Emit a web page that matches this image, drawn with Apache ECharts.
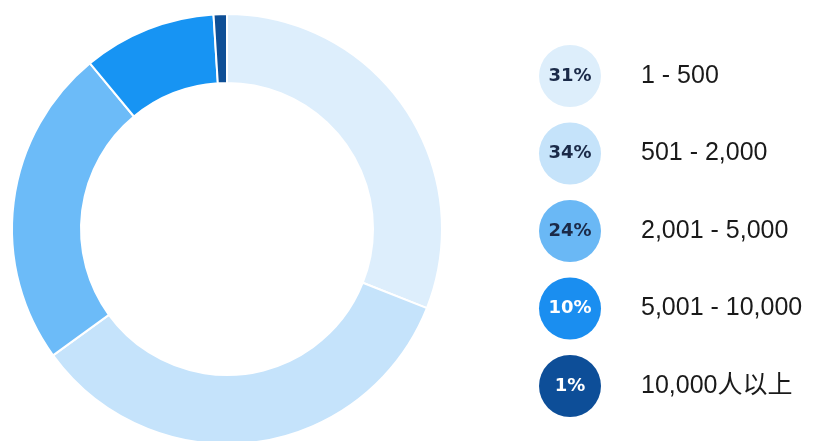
<!DOCTYPE html>
<html>
<head>
<meta charset="utf-8">
<script src="https://cdn.jsdelivr.net/npm/echarts@6/dist/echarts.min.js"></script>
<style>
  html, body { margin: 0; padding: 0; background: #fff; }
  #chart { width: 825px; height: 441px; }
</style>
</head>
<body>
<div id="chart"></div>
<script>
// Company size buckets and their share of respondents (%)
const categories = ['1 - 500', '501 - 2,000', '2,001 - 5,000', '5,001 - 10,000', '10,000人以上'];
const shares = [31, 34, 24, 10, 1];
const sliceColors = ['#ddeefc', '#c5e3fb', '#6cbbf8', '#1794f3', '#0e4f96'];
const badgeColors = ['#ddeefb', '#c5e3fa', '#6ab8f5', '#1a8ef0', '#0d4e98'];
const badgeText = ['#1b2a48', '#1b2a48', '#1b2a48', '#ffffff', '#ffffff'];

const chart = echarts.init(document.getElementById('chart'), null, { renderer: 'canvas' });

const rich = { };
categories.forEach((c, i) => {
  rich['b' + i] = {
    width: 62, height: 62, borderRadius: 31,
    backgroundColor: badgeColors[i],
    color: badgeText[i],
    align: 'center', verticalAlign: 'middle',
    fontFamily: '"DejaVu Sans", "Liberation Sans", sans-serif',
    fontWeight: 'bold', fontSize: 18
  };
});
rich.t = {
  fontFamily: '"Liberation Sans", Arial, "Noto Sans CJK SC", sans-serif',
  fontSize: 25, color: '#1a1a1a',
  padding: [0, 0, 0, 40]
};

chart.setOption({
  animation: false,
  legend: {
    orient: 'vertical',
    left: 528, top: 40,
    itemWidth: 0, itemHeight: 0,
    itemGap: 15.5,
    icon: 'circle',
    selectedMode: false,
    data: categories,
    formatter: name => {
      const i = categories.indexOf(name);
      return '{b' + i + '|' + shares[i] + '%}{t|' + name + '}';
    },
    textStyle: { rich: rich }
  },
  series: [{
    type: 'pie',
    center: [227, 229],
    radius: [146, 215],
    startAngle: 90,
    clockwise: true,
    silent: true,
    label: { show: false },
    labelLine: { show: false },
    itemStyle: { borderColor: '#ffffff', borderWidth: 2 },
    data: categories.map((c, i) => ({
      name: c, value: shares[i], itemStyle: { color: sliceColors[i] }
    }))
  }]
});
</script>
</body>
</html>
